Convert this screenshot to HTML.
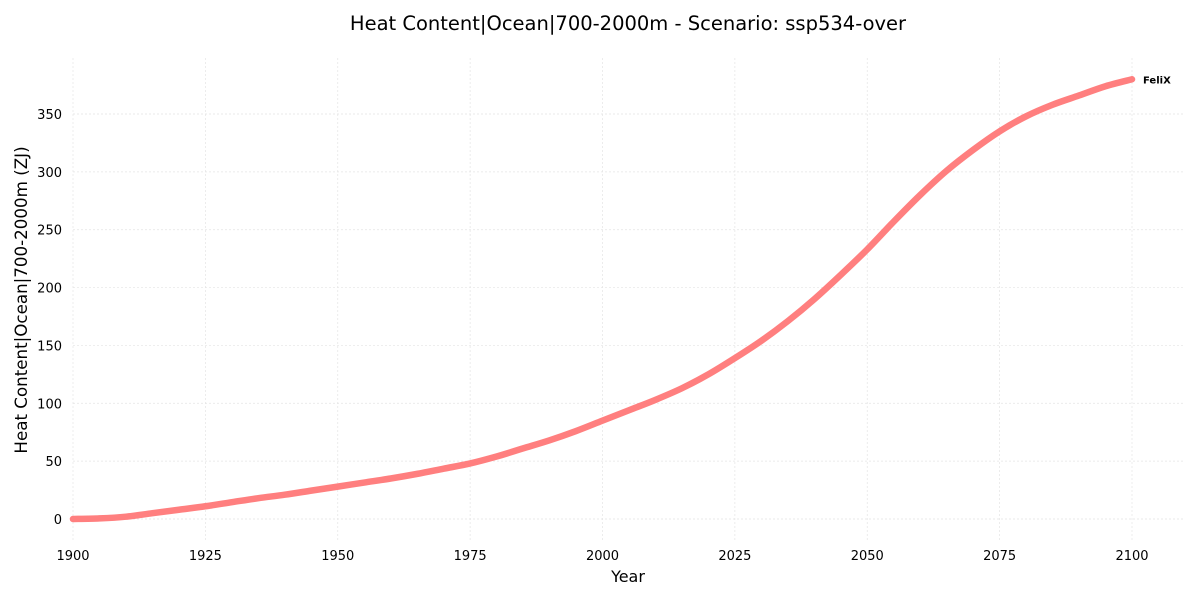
<!DOCTYPE html>
<html><head><meta charset="utf-8"><style>
body{margin:0;background:#fff;font-family:"DejaVu Sans","Liberation Sans",sans-serif;}
</style></head><body>
<svg width="1200" height="600" id="c" xmlns="http://www.w3.org/2000/svg" font-family="DejaVu Sans, Liberation Sans, sans-serif">
<text x="628" y="30" text-anchor="middle" font-size="19.5" fill="#000">Heat Content|Ocean|700-2000m - Scenario: ssp534-over</text>
<text x="628" y="582" text-anchor="middle" font-size="16">Year</text>
<text transform="translate(27,300) rotate(-90)" text-anchor="middle" font-size="16.7">Heat Content|Ocean|700-2000m (ZJ)</text>
<g id="grid"></g><g id="ticks"></g><g id="series"></g>
</svg>
<script>
const years=[1900,1905,1910,1915,1920,1925,1930,1935,1940,1945,1950,1955,1960,1965,1970,1975,1980,1985,1990,1995,2000,2005,2010,2015,2020,2025,2030,2035,2040,2045,2050,2055,2060,2065,2070,2075,2080,2085,2090,2095,2100];
const felix=[0,0.5,2,5,8,11,14.5,18,21,24.5,28,31.5,35,39,43.5,48,54,61,68,76,85,94,103,113,125,139,154,171,190,211,233,257,280,301,319,335,348,358,366,374,380];
const xTicks=[1900,1925,1950,1975,2000,2025,2050,2075,2100];
const yTicks=[0,50,100,150,200,250,300,350];
const NS='http://www.w3.org/2000/svg';
const x=v=>73+(v-1900)*(1132-73)/200;
const y=v=>519-v*(519-114)/350;
function mk(t,a,p){const e=document.createElementNS(NS,t);for(const k in a)e.setAttribute(k,a[k]);p.appendChild(e);return e;}
const g=document.getElementById('grid'),tk=document.getElementById('ticks'),s=document.getElementById('series');
xTicks.forEach(v=>{
const l=mk('line',{x1:x(v),x2:x(v),y1:58,y2:540,stroke:'#e4e4e4','stroke-width':0.7,'stroke-dasharray':'2,2'},g);


const t=mk('text',{x:x(v),y:560,'text-anchor':'middle','font-size':13},tk);t.textContent=v;


});
yTicks.forEach(v=>{
const l=mk('line',{x1:73,x2:1185,y1:y(v),y2:y(v),stroke:'#e4e4e4','stroke-width':0.7,'stroke-dasharray':'2,2'},g);


const t=mk('text',{x:62,y:y(v)+5,'text-anchor':'end','font-size':13},tk);t.textContent=v;


});
const P=years.map((yr,i)=>[x(yr),y(felix[i])]);
let d='M'+P[0][0]+','+P[0][1];
for(let i=0;i<P.length-1;i++){
const p0=P[Math.max(0,i-1)],p1=P[i],p2=P[i+1],p3=P[Math.min(P.length-1,i+2)];
const c1=[p1[0]+(p2[0]-p0[0])/6,p1[1]+(p2[1]-p0[1])/6],c2=[p2[0]-(p3[0]-p1[0])/6,p2[1]-(p3[1]-p1[1])/6];
d+=' C'+c1+' '+c2+' '+p2;
}
const pl=mk('path',{d:d,fill:'none',stroke:'#ff7f7f','stroke-width':6.5,'stroke-linejoin':'round','stroke-linecap':'round'},s);


const lb=mk('text',{x:x(years[years.length-1])+11,y:y(felix[felix.length-1])+4,'font-size':10,'font-weight':'bold'},s);
lb.textContent='FeliX';


</script>
</body></html>
